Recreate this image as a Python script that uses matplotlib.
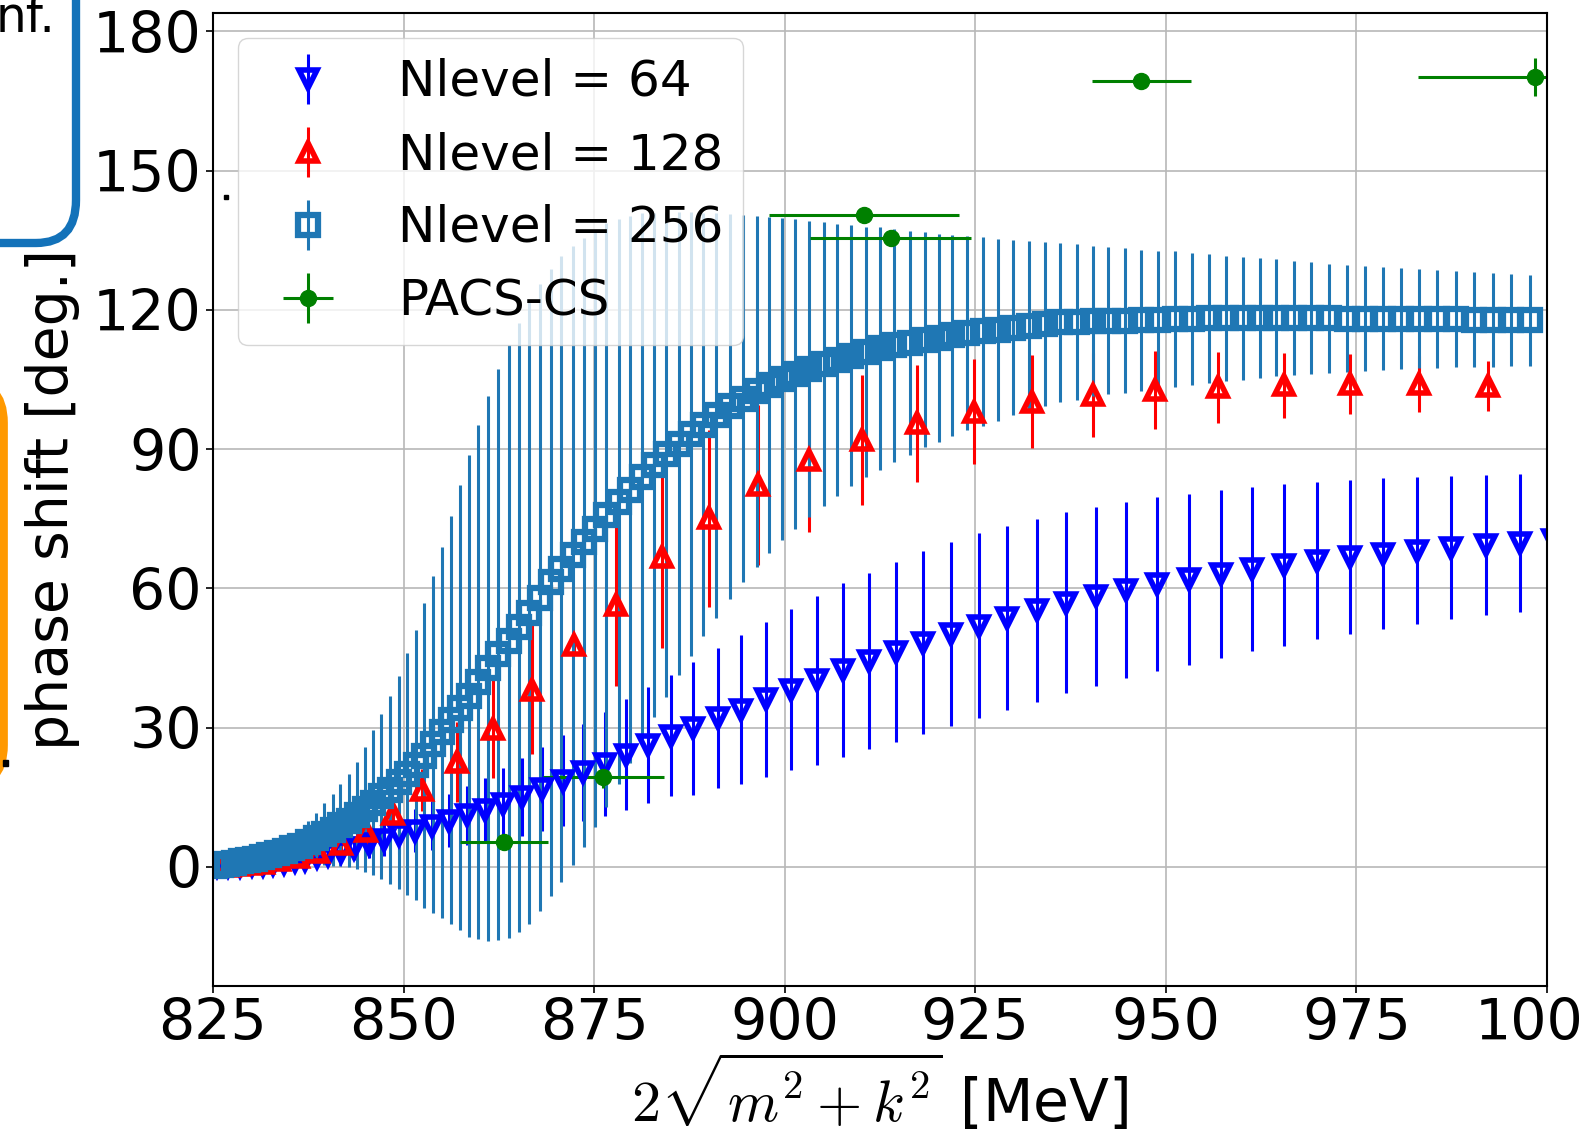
import matplotlib
matplotlib.use("Agg")
import matplotlib.pyplot as plt
from matplotlib.path import Path
from matplotlib.patches import PathPatch, Rectangle

plt.rcParams['font.family'] = ['DejaVu Sans']
plt.rcParams['mathtext.fontset'] = 'cm'

# ---------------- data ----------------
x_ticks = [825, 850, 875, 900, 925, 950, 975, 1000]
y_ticks = [0, 30, 60, 90, 120, 150, 180]

# Nlevel = 64
x64 = [825.5, 827.0, 828.6, 830.1, 831.5, 832.9, 834.3, 835.7, 837.1, 838.6,
       840.1, 841.8, 843.5, 845.5, 847.4, 849.4, 851.5, 853.7, 856.0, 858.3,
       860.7, 863.1, 865.6, 868.2, 870.9, 873.6, 876.4, 879.2, 882.1, 885.1,
       888.0, 891.2, 894.3, 897.5, 900.8, 904.2, 907.6, 911.1, 914.6, 918.2,
       921.8, 925.5, 929.2, 933.1, 936.9, 940.8, 944.8, 948.9, 953.0, 957.2,
       961.3, 965.5, 969.8, 974.1, 978.5, 983.0, 987.4, 992.0, 996.5, 1000.8]
y64 = [0.1, 0.2, 0.3, 0.4, 0.5, 0.7, 0.9, 1.2, 1.6, 2.1,
       2.6, 3.3, 4.1, 5.0, 5.9, 6.8, 7.8, 8.9, 10.0, 11.1,
       12.2, 13.6, 15.0, 16.8, 18.6, 20.4, 22.2, 24.2, 26.3, 28.3,
       29.9, 32.0, 33.9, 36.1, 38.2, 40.2, 42.4, 44.4, 46.3, 48.3,
       50.2, 52.0, 53.7, 55.3, 56.9, 58.3, 59.6, 60.9, 62.0, 63.1,
       64.2, 65.1, 66.0, 66.7, 67.5, 68.1, 68.8, 69.3, 69.8, 70.4]
e64 = [0.1, 0.2, 0.3, 0.4, 0.5, 0.6, 0.8, 1.0, 1.2, 1.5,
       1.8, 2.2, 2.6, 3.1, 3.6, 4.1, 4.6, 5.2, 5.8, 6.4,
       7.0, 7.7, 8.4, 9.1, 9.8, 10.5, 11.2, 11.9, 12.5, 13.1,
       14.3, 15.1, 16.0, 16.7, 17.3, 18.2, 18.7, 19.0, 19.4, 19.7,
       19.8, 19.9, 19.8, 19.7, 19.5, 19.3, 19.0, 18.7, 18.4, 18.1,
       17.7, 17.4, 16.9, 16.6, 16.2, 15.8, 15.4, 15.1, 14.8, 14.5]

# Nlevel = 128
x128 = [826.0, 827.1, 828.3, 829.8, 831.6, 833.7, 836.1, 838.8, 841.8, 845.1,
        848.6, 852.4, 857.0, 861.7, 866.8, 872.3, 877.9, 883.9, 890.1, 896.5,
        903.2, 910.2, 917.4, 924.8, 932.5, 940.4, 948.6, 956.9, 965.5, 974.2,
        983.2, 992.3]
y128 = [0.1, 0.2, 0.4, 0.6, 0.9, 1.4, 2.2, 3.3, 5.0, 7.8,
        11.5, 16.5, 22.6, 29.8, 38.2, 47.8, 56.5, 66.8, 75.1, 82.3,
        87.6, 92.0, 95.6, 98.1, 100.2, 101.7, 102.8, 103.3, 103.8, 104.0,
        104.0, 103.7]
e128 = [0.1, 0.2, 0.3, 0.5, 0.7, 1.0, 1.4, 2.0, 2.6, 3.0,
        3.0, 4.5, 8.6, 10.6, 13.9, 1.5, 17.6, 19.6, 19.0, 17.2,
        15.4, 14.0, 12.6, 11.3, 10.0, 9.0, 8.4, 7.6, 7.0, 6.4,
        6.0, 5.4]

# Nlevel = 256
x256 = [825.2, 826.0, 826.9, 827.8, 828.7, 829.6, 830.5, 831.4, 832.4, 833.4,
        834.4, 835.4, 836.4, 837.5, 838.5, 839.6, 840.7, 841.7, 842.8, 843.9,
        845.0, 846.0, 847.1, 848.2, 849.4, 850.4, 851.6, 852.7, 853.8, 855.0,
        856.2, 857.4, 858.6, 859.8, 861.1, 862.4, 863.8, 865.1, 866.4, 867.9,
        869.3, 870.7, 872.2, 873.7, 875.1, 876.6, 878.2, 879.7, 881.3, 882.8,
        884.4, 886.1, 887.7, 889.3, 891.0, 892.8, 894.5, 896.3, 898.0, 899.7,
        901.4, 903.2, 905.1, 906.9, 908.7, 910.6, 912.5, 914.4, 916.5, 918.4,
        920.2, 922.0, 923.9, 926.0, 928.0, 930.0, 932.0, 934.2, 936.1, 938.3,
        940.5, 942.4, 944.6, 946.8, 949.0, 951.2, 953.4, 955.6, 957.9, 960.1,
        962.3, 964.5, 966.8, 969.1, 971.4, 973.8, 976.1, 978.5, 980.9, 983.2,
        985.6, 988.0, 990.4, 992.9, 995.3, 997.8]
y256 = [0.3, 0.5, 0.7, 0.9, 1.2, 1.5, 1.8, 2.2, 2.6, 3.0,
        3.5, 4.0, 4.6, 5.4, 6.2, 7.1, 8.0, 9.0, 10.0, 11.1,
        12.4, 13.8, 15.2, 16.6, 18.2, 20.0, 21.9, 24.0, 26.4, 29.0,
        31.6, 34.3, 36.9, 39.8, 42.8, 45.8, 48.6, 51.6, 54.8, 58.0,
        61.3, 64.2, 67.1, 70.0, 72.9, 75.9, 78.7, 81.3, 84.0, 86.6,
        88.9, 91.2, 93.2, 95.3, 97.3, 99.2, 100.9, 102.5, 103.8, 105.1,
        106.2, 107.2, 108.3, 109.2, 110.1, 110.9, 111.7, 112.4, 112.9, 113.6,
        114.0, 114.5, 115.0, 115.4, 115.7, 116.2, 116.6, 117.0, 117.3, 117.4,
        117.6, 117.7, 117.7, 117.8, 117.9, 118.0, 118.0, 118.2, 118.2, 118.2,
        118.3, 118.3, 118.3, 118.3, 118.2, 118.1, 118.1, 118.1, 118.1, 118.1,
        118.0, 118.0, 117.9, 117.9, 117.8, 117.8]
e256 = [0.2, 0.3, 0.4, 0.6, 0.8, 1.0, 1.3, 1.6, 1.9, 2.3,
        2.7, 3.0, 3.4, 4.4, 5.5, 6.6, 7.8, 8.9, 10.1, 11.6,
        13.4, 15.6, 17.8, 20.2, 22.9, 26.0, 29.1, 32.8, 36.3, 40.0,
        44.0, 47.9, 51.9, 55.4, 58.7, 61.5, 63.9, 65.6, 67.1, 67.5,
        67.5, 67.4, 66.7, 65.6, 64.3, 62.9, 60.9, 58.9, 56.8, 54.3,
        52.2, 49.9, 47.8, 45.6, 43.6, 41.5, 39.6, 37.8, 36.2, 34.7,
        33.3, 31.9, 30.6, 29.3, 28.1, 27.0, 26.1, 25.1, 24.2, 23.1,
        22.4, 21.7, 20.9, 20.3, 19.6, 18.9, 18.2, 17.7, 17.1, 16.7,
        16.2, 15.9, 15.6, 15.2, 14.9, 14.6, 14.2, 13.9, 13.5, 13.2,
        12.9, 12.6, 12.3, 12.0, 11.7, 11.5, 11.3, 11.1, 10.9, 10.7,
        10.5, 10.4, 10.2, 10.1, 9.9, 9.8]

# PACS-CS
x_pacs = [863.2, 876.2, 910.4, 913.9, 946.8, 998.4]
y_pacs = [5.4, 19.4, 140.5, 135.6, 169.4, 170.1]
xerr_pacs = [5.8, 7.9, 12.5, 10.6, 6.5, 15.3]
yerr_pacs = [1.0, 2.5, 1.2, 1.2, 1.5, 4.1]

labels = ['Nlevel = 64', 'Nlevel = 128', 'Nlevel = 256', 'PACS-CS']

# ---------------- figure ----------------
W, H = 1586, 1140
fig = plt.figure(figsize=(W / 100, H / 100), dpi=100)
ax = fig.add_axes([213 / W, 1 - 986 / H, (1547 - 213) / W, (986 - 13) / H])

common = dict(linestyle='none', capsize=0, elinewidth=2.2)
ax.errorbar(x64, y64, yerr=e64, marker='v', color='blue', mfc='none',
            mec='blue', ms=13, mew=4, label=labels[0], **common)
ax.errorbar(x128, y128, yerr=e128, marker='^', color='red', mfc='none',
            mec='red', ms=13, mew=4, label=labels[1], **common)
ax.errorbar(x256, y256, yerr=e256, marker='s', color='#1f77b4', mfc='none',
            mec='#1f77b4', ms=15, mew=4.5, label=labels[2], **common)
ax.errorbar(x_pacs, y_pacs, xerr=xerr_pacs, yerr=yerr_pacs, marker='o',
            color='green', ms=11.5, mew=1, label=labels[3], **common)

ax.set_xlim(825, 1000)
ax.set_ylim(-25.65, 183.97)
ax.set_xticks(x_ticks)
ax.set_yticks(y_ticks)
ax.grid(True, color='#b8b8b8', lw=1.2)
ax.tick_params(labelsize=41, length=5, width=1.2, pad=3)
for s in ax.spines.values():
    s.set_linewidth(1.5)

ax.set_ylabel('phase shift [deg.]', fontsize=41)
ax.yaxis.set_label_coords(-0.0997, 0.5)
ax.set_xlabel(r'$2\sqrt{m^2+k^2}$ [MeV]', fontsize=42)
ax.xaxis.set_label_coords(0.5, -0.068)

ax.legend(loc='upper left', fontsize=36, framealpha=0.8)

# ---------------- fragments of neighbouring panels ----------------
def P(x, y):
    return (x / W, 1 - y / H)

blue_path = Path([P(76, -10), P(76, 200), P(76, 243), P(36, 243), P(-10, 243)],
                 [Path.MOVETO, Path.LINETO, Path.CURVE3, Path.CURVE3, Path.LINETO])
fig.add_artist(PathPatch(blue_path, fill=False, edgecolor='#1372b9', lw=6,
                         transform=fig.transFigure))
orange_path = Path([P(-40, 380), P(3, 380), P(3, 423), P(3, 745), P(3, 788), P(-40, 788)],
                   [Path.MOVETO, Path.CURVE3, Path.CURVE3, Path.LINETO,
                    Path.CURVE3, Path.CURVE3])
fig.add_artist(PathPatch(orange_path, fill=False, edgecolor='#ff9900', lw=7,
                         transform=fig.transFigure))
fig.text(-4.5 / W, 1 - 31.7 / H, 'nf.', fontsize=35, ha='left', va='baseline')
fig.add_artist(Rectangle(P(224, 199), 4 / W, 4 / H, color='black',
                         transform=fig.transFigure))
fig.add_artist(Rectangle(P(3, 766), 5 / W, 6 / H, color='black',
                         transform=fig.transFigure))

fig.savefig('out.png', dpi=100)
